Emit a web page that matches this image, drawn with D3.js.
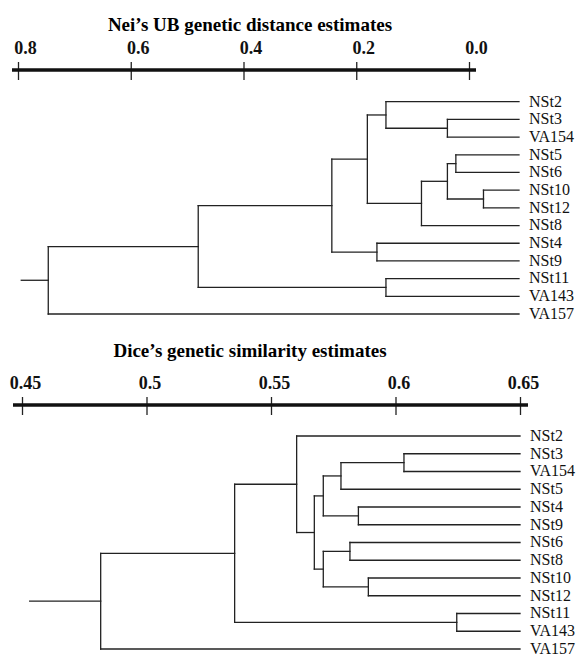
<!DOCTYPE html>
<html>
<head>
<meta charset="utf-8">
<script src="https://cdn.jsdelivr.net/npm/d3@7"></script>
<style>
  body { margin: 0; background: #fff; }
  svg { display: block; font-family: "Liberation Serif", "Times New Roman", serif; }
  .title { font-weight: bold; font-size: 19px; }
  .tick text { font-weight: bold; font-size: 18px; fill: #111; }
  .leaf { font-size: 16px; fill: #111; }
</style>
</head>
<body>
<div id="chart"></div>
<script>
// leaf order as drawn, top to bottom
var neiLeaves = ["NSt2", "NSt3", "VA154", "NSt5", "NSt6", "NSt10", "NSt12", "NSt8", "NSt4", "NSt9", "NSt11", "VA143", "VA157"];
// merges: [child a, child b, distance]  (Cn = n-th merge)
var neiMerges = [
  ["NSt3", "VA154", 0.127],
  ["NSt2", "C1", 0.236],
  ["NSt5", "NSt6", 0.112],
  ["NSt10", "NSt12", 0.063],
  ["C3", "C4", 0.127],
  ["C5", "NSt8", 0.173],
  ["C2", "C6", 0.269],
  ["NSt4", "NSt9", 0.252],
  ["C7", "C8", 0.332],
  ["NSt11", "VA143", 0.236],
  ["C9", "C10", 0.569],
  ["C11", "VA157", 0.835]
];
var neiTicks = [0.8, 0.6, 0.4, 0.2, 0.0];

var diceLeaves = ["NSt2", "NSt3", "VA154", "NSt5", "NSt4", "NSt9", "NSt6", "NSt8", "NSt10", "NSt12", "NSt11", "VA143", "VA157"];
var diceMerges = [
  ["NSt3", "VA154", 0.6034],
  ["C1", "NSt5", 0.5781],
  ["NSt4", "NSt9", 0.5851],
  ["C2", "C3", 0.5710],
  ["NSt6", "NSt8", 0.5817],
  ["NSt10", "NSt12", 0.5891],
  ["C5", "C6", 0.5710],
  ["C4", "C7", 0.5674],
  ["NSt2", "C8", 0.5603],
  ["NSt11", "VA143", 0.6246],
  ["C9", "C10", 0.5354],
  ["C11", "VA157", 0.4816]
];
var diceTicks = [0.45, 0.5, 0.55, 0.6, 0.65];

var width = 579, height = 657;

var svg = d3.select("#chart").append("svg")
    .attr("width", width)
    .attr("height", height);

// turn a merge list into a nested tree for d3.hierarchy
function buildTree(merges, leafValue) {
  var nodes = {};
  merges.forEach(function(m, i) {
    var kids = [m[0], m[1]].map(function(k) {
      return nodes[k] || { name: k, value: leafValue };
    });
    nodes["C" + (i + 1)] = { name: "C" + (i + 1), value: m[2], children: kids };
  });
  return d3.hierarchy(nodes["C" + merges.length]);
}

function drawPanel(opt) {
  var g = svg.append("g");

  g.append("text")
    .attr("class", "title")
    .attr("x", opt.titleX)
    .attr("y", opt.titleY)
    .attr("text-anchor", "middle")
    .text(opt.title);

  // axis
  var axis = d3.axisTop(opt.axisScale)
    .tickValues(opt.ticks)
    .tickFormat(opt.format)
    .tickSizeOuter(0);

  var ax = g.append("g")
    .attr("transform", "translate(0," + opt.axisY + ")")
    .call(axis)
    .attr("font-family", null)
    .attr("font-size", null);
  ax.select(".domain").remove();
  ax.selectAll(".tick line")
    .attr("y1", 10).attr("y2", -8)
    .attr("stroke", "#222").attr("stroke-width", 1.3);
  ax.selectAll(".tick text")
    .attr("y", -16)
    .attr("dx", opt.labelDx)
    .attr("dy", 0);

  var r = opt.axisScale.range();
  ax.append("line")
    .attr("x1", r[0] - opt.barPad[0]).attr("x2", r[1] + opt.barPad[1])
    .attr("stroke", "#111").attr("stroke-width", 3.5);

  // dendrogram
  var root = buildTree(opt.merges, opt.leafValue);
  var y = d3.scaleLinear().domain([0, opt.leaves.length - 1]).range(opt.leafRange);
  var x = opt.treeScale;

  root.leaves().forEach(function(d, i) { d.py = y(i); });
  root.eachAfter(function(d) {
    if (d.children) d.py = d3.mean(d.children, function(c) { return c.py; });
  });

  var lines = [];
  root.each(function(d) {
    if (!d.children) return;
    var xs = x(d.data.value);
    lines.push([xs, d3.min(d.children, function(c) { return c.py; }), xs, d3.max(d.children, function(c) { return c.py; })]);
    d.children.forEach(function(c) {
      lines.push([xs, c.py, x(c.data.value), c.py]);
    });
  });
  lines.push([x(root.data.value) - opt.stub, root.py, x(root.data.value), root.py]);

  g.append("g").selectAll("line")
    .data(lines)
    .enter().append("line")
    .attr("x1", function(d) { return d[0]; })
    .attr("y1", function(d) { return d[1]; })
    .attr("x2", function(d) { return d[2]; })
    .attr("y2", function(d) { return d[3]; })
    .attr("stroke", "#222")
    .attr("stroke-width", 1.3)
    .attr("stroke-linecap", "square");

  g.append("g").selectAll("text")
    .data(root.leaves())
    .enter().append("text")
    .attr("class", "leaf")
    .attr("x", function(d) { return x(d.data.value) + 10; })
    .attr("y", function(d) { return d.py; })
    .attr("dy", "0.3em")
    .text(function(d) { return d.data.name; });
}

drawPanel({
  title: "Nei\u2019s UB genetic distance estimates",
  titleX: 250, titleY: 31,
  axisScale: d3.scaleLinear().domain([0.8, 0]).range([18, 469]),
  ticks: neiTicks,
  format: d3.format(".1f"),
  labelDx: 7,
  axisY: 70,
  barPad: [6, 7],
  merges: neiMerges,
  leaves: neiLeaves,
  leafValue: 0,
  treeScale: d3.scaleLinear().domain([0, 0.8]).range([519, 68]),
  leafRange: [101.7, 314],
  stub: 27
});

drawPanel({
  title: "Dice\u2019s genetic similarity estimates",
  titleX: 250, titleY: 357,
  axisScale: d3.scaleLinear().domain([0.45, 0.65]).range([22, 520]),
  ticks: diceTicks,
  format: function(d) { return String(d); },
  labelDx: 3,
  axisY: 405,
  barPad: [9, 8],
  merges: diceMerges,
  leaves: diceLeaves,
  leafValue: 0.65,
  treeScale: d3.scaleLinear().domain([0.45, 0.65]).range([22, 520]),
  leafRange: [436, 649],
  stub: 71
});
</script>
</body>
</html>
